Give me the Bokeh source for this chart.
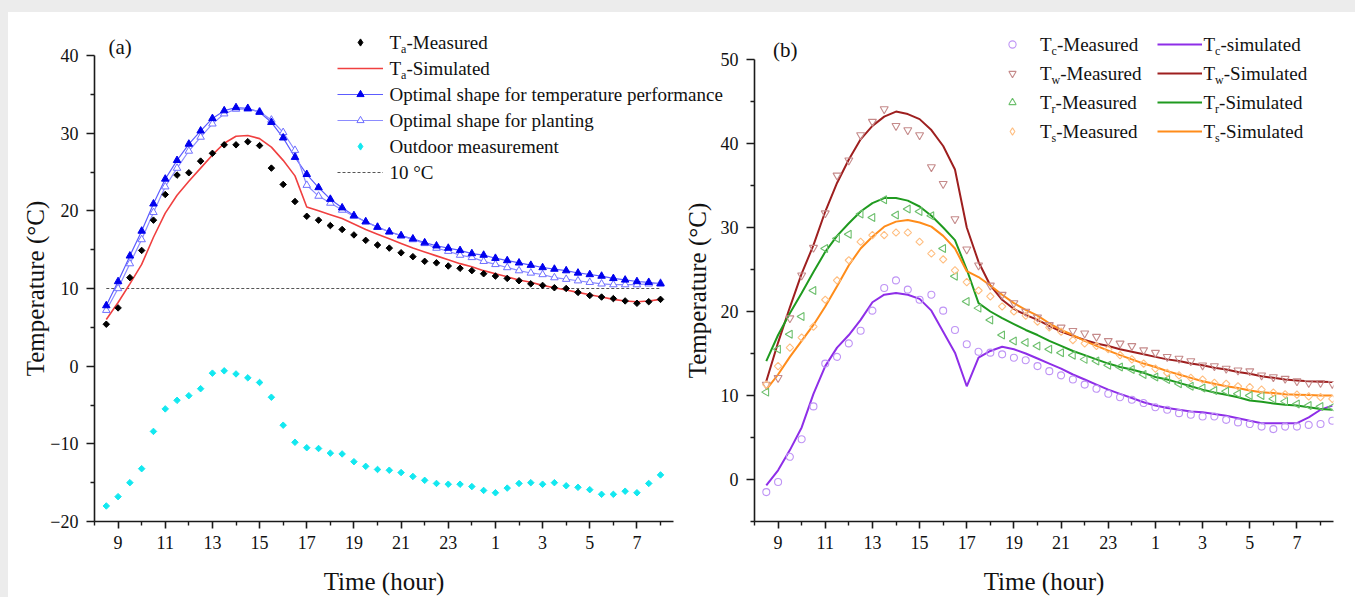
import math
from bokeh.plotting import figure
from bokeh.models import Range1d, FixedTicker, Label, Legend, LegendItem, Spacer
from bokeh.layouts import row, column
from bokeh.embed import file_html
from bokeh.resources import INLINE

SERIF = "Liberation Serif"

# ---------------- data: panel (a) ----------------
time_a = [8.5, 9.0, 9.5, 10.0, 10.5, 11.0, 11.5, 12.0, 12.5, 13.0, 13.5, 14.0, 14.5, 15.0, 15.5, 16.0,
          16.5, 17.0, 17.5, 18.0, 18.5, 19.0, 19.5, 20.0, 20.5, 21.0, 21.5, 22.0, 22.5, 23.0, 23.5, 24.0,
          24.5, 25.0, 25.5, 26.0, 26.5, 27.0, 27.5, 28.0, 28.5, 29.0, 29.5, 30.0, 30.5, 31.0, 31.5, 32.0]
ta_measured = [5.4, 7.5, 11.4, 14.9, 18.8, 22.1, 24.6, 24.9, 26.4, 27.4, 28.5, 28.5, 28.9, 28.4, 25.5, 23.4,
               21.2, 19.3, 18.8, 18.1, 17.6, 16.9, 16.2, 15.6, 15.2, 14.6, 14.1, 13.5, 13.3, 12.9, 12.6, 12.3,
               11.9, 11.6, 11.3, 11.0, 10.6, 10.4, 10.1, 10.0, 9.5, 9.1, 8.9, 8.7, 8.4, 8.1, 8.3, 8.6]
ta_simulated = [6.0, 8.2, 10.6, 13.1, 16.6, 19.7, 22.0, 23.8, 25.5, 27.2, 28.7, 29.6, 29.7, 29.3, 28.2, 26.5,
                24.5, 20.5, 20.0, 19.5, 19.0, 18.3, 17.6, 17.0, 16.4, 15.8, 15.2, 14.7, 14.2, 13.7, 13.2, 12.8,
                12.3, 11.9, 11.5, 11.1, 10.8, 10.4, 10.1, 9.8, 9.5, 9.2, 8.9, 8.6, 8.4, 8.3, 8.4, 8.6]
opt_temperature = [7.8, 10.9, 14.2, 17.4, 20.9, 24.1, 26.5, 28.6, 30.3, 31.9, 32.9, 33.3, 33.2, 32.7, 31.4, 29.4,
                   26.9, 24.7, 23.0, 21.5, 20.4, 19.4, 18.6, 17.9, 17.3, 16.8, 16.4, 15.9, 15.5, 15.2, 14.9, 14.5,
                   14.3, 13.9, 13.6, 13.3, 13.0, 12.7, 12.5, 12.3, 12.0, 11.8, 11.6, 11.3, 11.1, 10.9, 10.8, 10.6]
opt_planting = [7.2, 10.0, 13.2, 16.3, 19.8, 23.1, 25.5, 27.7, 29.5, 31.2, 32.5, 33.1, 33.1, 32.8, 31.7, 30.1,
                27.8, 23.3, 21.9, 21.0, 20.1, 19.3, 18.6, 17.9, 17.3, 16.8, 16.3, 15.8, 15.2, 14.8, 14.3, 14.0,
                13.5, 13.1, 12.7, 12.3, 12.0, 11.8, 11.4, 11.2, 11.0, 10.8, 10.6, 10.5, 10.5, 10.5, 10.6, 10.7]
outdoor = [-18.0, -16.8, -15.0, -13.2, -8.4, -5.5, -4.4, -3.8, -2.9, -0.9, -0.6, -1.0, -1.5, -2.1, -4.0, -7.6,
           -9.8, -10.5, -10.6, -11.2, -11.3, -12.3, -12.9, -13.3, -13.4, -13.7, -14.2, -14.7, -15.1, -15.2, -15.2, -15.5,
           -16.0, -16.3, -15.7, -15.1, -15.0, -15.2, -15.0, -15.4, -15.6, -15.9, -16.5, -16.5, -16.1, -16.3, -15.1, -14.0]
threshold = 10

# ---------------- data: panel (b) ----------------
time_b = [8.5, 9.0, 9.5, 10.0, 10.5, 11.0, 11.5, 12.0, 12.5, 13.0, 13.5, 14.0, 14.5, 15.0, 15.5, 16.0,
          16.5, 17.0, 17.5, 18.0, 18.5, 19.0, 19.5, 20.0, 20.5, 21.0, 21.5, 22.0, 22.5, 23.0, 23.5, 24.0,
          24.5, 25.0, 25.5, 26.0, 26.5, 27.0, 27.5, 28.0, 28.5, 29.0, 29.5, 30.0, 30.5, 31.0, 31.5, 32.0, 32.5]
tc_measured = [-1.5, -0.3, 2.7, 4.8, 8.7, 13.8, 14.6, 16.2, 17.7, 20.1, 22.8, 23.7, 22.6, 21.4, 22.0, 20.1,
               17.8, 16.1, 15.2, 15.1, 14.9, 14.5, 14.2, 13.5, 12.9, 12.4, 11.9, 11.3, 10.8, 10.2, 9.8, 9.5,
               9.1, 8.6, 8.3, 7.9, 7.7, 7.5, 7.5, 7.1, 6.8, 6.6, 6.3, 6.0, 6.3, 6.3, 6.5, 6.6, 7.0]
tc_simulated = [-0.7, 1.1, 3.5, 6.2, 10.2, 13.5, 15.7, 17.2, 19.0, 21.1, 22.0, 22.2, 22.0, 21.5, 20.1, 17.6,
                15.1, 11.1, 14.5, 15.3, 15.8, 15.5, 15.0, 14.4, 13.8, 13.2, 12.5, 11.9, 11.3, 10.7, 10.2, 9.7,
                9.2, 8.8, 8.5, 8.3, 8.1, 8.0, 7.8, 7.6, 7.3, 7.0, 6.7, 6.7, 6.7, 6.7, 7.4, 8.3, 8.8]
tw_measured = [11.3, 12.1, 19.2, 24.3, 27.6, 31.7, 36.2, 38.0, 41.0, 42.6, 44.1, 42.1, 41.6, 41.0, 37.2, 35.2,
               31.0, 27.4, 25.5, 23.1, 22.0, 21.0, 20.0, 19.3, 18.4, 18.1, 17.7, 17.4, 17.0, 16.5, 16.2, 15.9,
               15.4, 15.1, 14.6, 14.4, 14.1, 13.6, 13.5, 13.2, 13.0, 12.9, 12.4, 12.2, 12.0, 11.7, 11.5, 11.5, 11.4]
tw_simulated = [11.7, 16.3, 20.5, 24.5, 27.9, 31.9, 35.3, 38.1, 40.5, 42.1, 43.2, 43.8, 43.5, 42.9, 41.6, 39.7,
                36.9, 30.0, 25.9, 23.1, 21.4, 20.3, 19.6, 19.0, 18.3, 17.6, 17.1, 16.6, 16.2, 15.9, 15.5, 15.2,
                14.9, 14.6, 14.3, 14.1, 13.8, 13.6, 13.3, 13.1, 12.8, 12.6, 12.3, 12.1, 11.9, 11.8, 11.7, 11.65, 11.6]
tr_measured = [10.4, 15.5, 17.3, 19.4, 22.5, 27.5, 28.7, 29.2, 31.6, 31.2, 33.3, 31.5, 32.2, 31.9, 31.4, 27.5,
               24.2, 21.2, 20.4, 19.0, 17.2, 16.5, 16.3, 15.9, 15.5, 15.1, 14.8, 14.3, 14.1, 13.6, 13.4, 13.1,
               12.5, 12.2, 11.9, 11.4, 11.1, 10.9, 10.6, 10.5, 10.2, 10.0, 10.0, 9.6, 9.3, 9.0, 8.8, 8.7, 8.6]
tr_simulated = [14.1, 17.2, 19.8, 22.2, 24.7, 27.1, 29.0, 30.5, 31.9, 32.9, 33.5, 33.5, 33.2, 32.5, 31.4, 30.0,
                28.5, 25.0, 21.0, 20.0, 19.2, 18.5, 17.8, 17.2, 16.5, 15.9, 15.3, 14.8, 14.3, 13.8, 13.4, 13.1,
                12.7, 12.2, 11.9, 11.5, 11.1, 10.7, 10.35, 10.1, 9.8, 9.4, 9.25, 9.06, 8.9, 8.8, 8.6, 8.4, 8.3]
ts_measured = [11.3, 13.5, 15.7, 16.9, 18.2, 21.4, 23.7, 26.1, 28.3, 29.1, 29.1, 29.4, 29.4, 28.3, 26.9, 26.2,
               24.9, 23.5, 22.5, 21.8, 20.6, 20.0, 19.5, 18.8, 18.1, 17.6, 16.6, 16.2, 15.9, 15.5, 14.8, 14.3,
               13.8, 13.2, 12.7, 12.4, 12.1, 11.9, 11.5, 11.4, 11.1, 11.0, 10.7, 10.35, 10.15, 10.1, 9.9, 9.8, 9.6]
ts_simulated = [10.7, 12.5, 14.6, 16.5, 18.4, 20.6, 23.0, 25.5, 27.5, 28.9, 30.1, 30.7, 30.9, 30.6, 30.1, 29.0,
                27.5, 24.8, 24.1, 23.1, 22.0, 21.0, 20.2, 19.5, 18.6, 17.8, 17.2, 16.5, 15.9, 15.35, 14.8, 14.3,
                13.8, 13.4, 12.9, 12.5, 12.1, 11.7, 11.4, 11.1, 10.9, 10.6, 10.4, 10.3, 10.15, 10.1, 10.05, 10.0, 10.0]

# ---------------- ticks ----------------
tick_hours = [9, 11, 13, 15, 17, 19, 21, 23, 25, 27, 29, 31]
tick_labels = ["9", "11", "13", "15", "17", "19", "21", "23", "1", "3", "5", "7"]
minor_hours = [8, 10, 12, 14, 16, 18, 20, 22, 24, 26, 28, 30, 32]
ya_major = [-20, -10, 0, 10, 20, 30, 40]
ya_minor = [-15, -5, 5, 15, 25, 35]
yb_major = [0, 10, 20, 30, 40, 50]
yb_minor = [-5, 5, 15, 25, 35, 45]

W = {"T": 0.611, "a": 0.444, "c": 0.444, "w": 0.722, "r": 0.333, "s": 0.389}

# colours / styles
RED = "#f04040"
BLUE_L, BLUE_M = "#5c5cff", "#0000ee"
PL_L, PL_M = "#8c8cff", "#7070ff"
CYAN = "#12e8f0"
c_tc, c_tc_m = "#8e2ee8", "#bf94f5"
c_tw, c_tw_m = "#9e1f1f", "#c58a8a"
c_tr, c_tr_m = "#1f9a1f", "#6cbf6c"
c_ts, c_ts_m = "#ff8c1a", "#ffbe80"
ROT = math.pi / 4


def style(p, y_major, y_minor, ylabel_standoff):
    p.xgrid.visible = False
    p.ygrid.visible = False
    p.outline_line_color = None
    p.xaxis.ticker = FixedTicker(ticks=tick_hours, minor_ticks=minor_hours)
    p.xaxis.major_label_overrides = dict(zip(tick_hours, tick_labels))
    p.yaxis.ticker = FixedTicker(ticks=y_major, minor_ticks=y_minor)
    for ax in [p.xaxis[0], p.yaxis[0]]:
        ax.axis_line_width = 1.6
        ax.axis_line_color = "#1a1a1a"
        ax.major_tick_line_width = 1.6
        ax.major_tick_line_color = "#1a1a1a"
        ax.minor_tick_line_width = 1.4
        ax.minor_tick_line_color = "#1a1a1a"
        ax.major_tick_in = 0
        ax.minor_tick_in = 0
        ax.minor_tick_out = 4
        ax.major_label_text_font = SERIF
        ax.major_label_text_font_size = "18px"
        ax.major_label_text_color = "#111111"
        ax.axis_label_text_font = SERIF
        ax.axis_label_text_font_size = "25px"
        ax.axis_label_text_font_style = "normal"
        ax.axis_label_text_color = "#111111"
    p.xaxis.major_tick_out = 7
    p.yaxis.major_tick_out = 8
    p.xaxis.major_label_standoff = 7
    p.yaxis.major_label_standoff = 8
    p.xaxis.axis_label = "Time (hour)"
    p.yaxis.axis_label = "Temperature (°C)"
    p.xaxis.axis_label_standoff = 16
    p.yaxis.axis_label_standoff = ylabel_standoff


# ================= panel (a) =================
pa = figure(width=670, height=585, x_range=Range1d(8, 32.55), y_range=Range1d(-20, 40),
            output_backend="svg", toolbar_location=None, frame_align=False,
            min_border_left=86, min_border_right=5, min_border_top=43, min_border_bottom=75,
            border_fill_color="white", background_fill_color="white")
style(pa, ya_major, ya_minor, -2)

pa.line([time_a[0], time_a[-1]], [threshold, threshold], line_color="#555555", line_width=1, line_dash="3 2")
pa.line(time_a, ta_simulated, line_color=RED, line_width=1.6)
pa.line(time_a, opt_temperature, line_color=BLUE_L, line_width=1.2)
pa.line(time_a, opt_planting, line_color=PL_L, line_width=1.2)
pa.scatter(time_a, opt_planting, marker="triangle", size=7.5, fill_color="white", line_color=PL_M, line_width=1)
pa.scatter(time_a, opt_temperature, marker="triangle", size=7.5, fill_color=BLUE_M, line_color=BLUE_M)
pa.scatter(time_a, ta_measured, marker="square", angle=ROT, size=4.6, fill_color="black", line_color="black")
pa.scatter(time_a, outdoor, marker="square", angle=ROT, size=4.6, fill_color=CYAN, line_color=CYAN)

# ================= panel (b) =================
pb = figure(width=677, height=585, x_range=Range1d(8, 32.55), y_range=Range1d(-5, 50),
            output_backend="svg", toolbar_location=None, frame_align=False,
            min_border_left=76, min_border_right=22, min_border_top=47, min_border_bottom=72,
            border_fill_alpha=0, background_fill_alpha=0)
style(pb, yb_major, yb_minor, 7)

pb.line(time_b, tc_simulated, line_color=c_tc, line_width=2)
pb.line(time_b, tw_simulated, line_color=c_tw, line_width=2)
pb.line(time_b, tr_simulated, line_color=c_tr, line_width=2)
pb.line(time_b, ts_simulated, line_color=c_ts, line_width=2)
pb.scatter(time_b, tc_measured, marker="circle", size=7, fill_color=None, line_color=c_tc_m, line_width=1.1)
pb.scatter(time_b, tw_measured, marker="inverted_triangle", size=8, fill_color=None, line_color=c_tw_m,
           line_width=1.1)
pb.scatter(time_b, tr_measured, marker="triangle", angle=math.pi / 2, size=8, fill_color=None,
           line_color=c_tr_m, line_width=1.1)
pb.scatter(time_b, ts_measured, marker="square", angle=ROT, size=5.2, fill_color=None, line_color=c_ts_m,
           line_width=1.1)

# ================= overlay with legends and panel letters =================
ov = figure(width=1347, height=585, x_range=Range1d(0, 1), y_range=Range1d(0, 1),
            x_axis_type=None, y_axis_type=None, output_backend="svg", toolbar_location=None,
            frame_align=False, min_border=0, border_fill_alpha=0, background_fill_alpha=0,
            outline_line_color=None)
ov.margin = (0, 0, 0, -1347)
ov.grid.visible = False


def txt(x, y, text, size):
    ov.add_layout(Label(x=x, y=y, x_units="screen", y_units="screen", text=text,
                        text_font=SERIF, text_font_size=f"{size}px", text_color="#111111",
                        text_baseline="middle", text_align="left"))


def legend_text(x, yc, main, sub=None, rest=None):
    txt(x, yc, main, 19)
    if sub is not None:
        x2 = x + W[main] * 19
        txt(x2, yc - 6, sub, 12)
        txt(x2 + W[sub] * 12, yc, rest, 19)


def make_legend(items, loc, gw, gh, sp):
    return Legend(items=items, location=loc, orientation="vertical", glyph_width=gw, glyph_height=gh,
                  spacing=sp, padding=0, margin=0, label_standoff=0, label_text_font_size="5px",
                  label_height=4, label_width=1, border_line_alpha=0, background_fill_alpha=0)


# legend swatch renderers: a single undefined (NaN) point, so nothing is drawn in the plot area
NAN = float("nan")
E = dict(x=[NAN], y=[NAN])
s_meas = ov.scatter(**E, marker="diamond", fill_color="black", line_color="black")
s_sim = ov.line(**E, line_color=RED, line_width=1.6)
s_opt_l = ov.line(**E, line_color=BLUE_L, line_width=1.2)
s_opt_p = ov.scatter(**E, marker="triangle", fill_color=BLUE_M, line_color=BLUE_M)
s_pl_l = ov.line(**E, line_color=PL_L, line_width=1.2)
s_pl_p = ov.scatter(**E, marker="triangle", fill_color="white", line_color=PL_M, line_width=1)
s_out = ov.scatter(**E, marker="diamond", fill_color=CYAN, line_color=CYAN)
s_ref = ov.line(**E, line_color="#555555", line_width=1, line_dash="3 2")
ov.add_layout(make_legend([LegendItem(label=" ", renderers=r) for r in
                           [[s_meas], [s_sim], [s_opt_l, s_opt_p], [s_pl_l, s_pl_p], [s_out], [s_ref]]],
                          (329, 416), 46, 18, 8))

rows_a = [("T", "a", "-Measured"), ("T", "a", "-Simulated"),
          ("Optimal shape for temperature performance", None, None),
          ("Optimal shape for planting", None, None),
          ("Outdoor measurement", None, None), ("10 °C", None, None)]
for i, (m, s, r) in enumerate(rows_a):
    legend_text(381, 555 - 26 * i, m, s, r)
txt(100, 551, "(a)", 21)

b_marks = [ov.scatter(**E, marker="circle", fill_color=None, line_color=c_tc_m, line_width=1.1),
           ov.scatter(**E, marker="inverted_triangle", fill_color=None, line_color=c_tw_m, line_width=1.1),
           ov.scatter(**E, marker="triangle", fill_color=None, line_color=c_tr_m, line_width=1.1),
           ov.scatter(**E, marker="diamond", fill_color=None, line_color=c_ts_m, line_width=1.1)]
b_lines = [ov.line(**E, line_color=c, line_width=2) for c in [c_tc, c_tw, c_tr, c_ts]]
ov.add_layout(make_legend([LegendItem(label=" ", renderers=[m]) for m in b_marks], (993.5, 457), 20, 18, 11))
ov.add_layout(make_legend([LegendItem(label=" ", renderers=[l]) for l in b_lines], (1149, 457), 45, 18, 11))

rows_b1 = [("T", "c", "-Measured"), ("T", "w", "-Measured"), ("T", "r", "-Measured"), ("T", "s", "-Measured")]
rows_b2 = [("T", "c", "-simulated"), ("T", "w", "-Simulated"), ("T", "r", "-Simulated"), ("T", "s", "-Simulated")]
for i, (m, s, r) in enumerate(rows_b1):
    legend_text(1031.5, 553 - 29 * i, m, s, r)
for i, (m, s, r) in enumerate(rows_b2):
    legend_text(1195, 553 - 29 * i, m, s, r)
txt(764.6, 548, "(b)", 21)

gray = "#ececec"
top = Spacer(width=1355, height=12, styles={"background-color": gray})
left = Spacer(width=8, height=585, styles={"background-color": gray})
layout = column(top, row(left, pa, pb, ov))

open("out.html", "w").write(file_html(layout, INLINE))
